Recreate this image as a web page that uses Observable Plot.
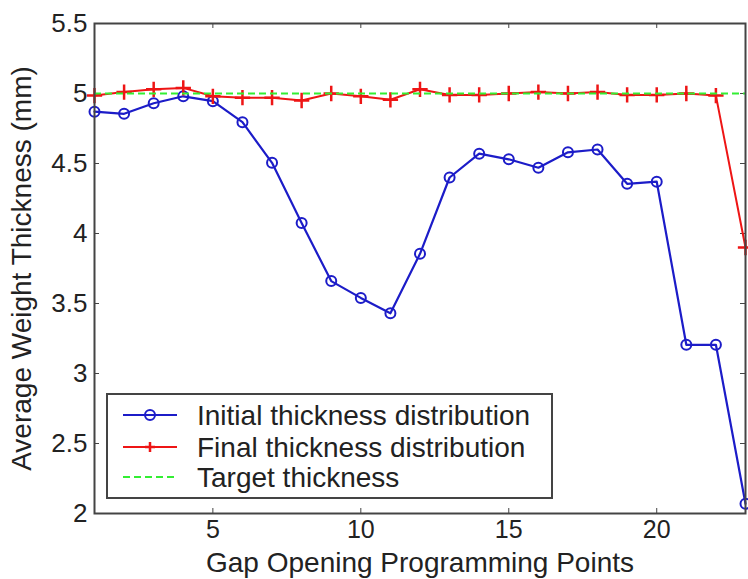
<!DOCTYPE html>
<html><head><meta charset="utf-8">
<script src="https://cdn.jsdelivr.net/npm/d3@7"></script>
<script src="https://cdn.jsdelivr.net/npm/@observablehq/plot@0.6"></script>
<style>body{margin:0;background:#fff;} #chart{width:748px;height:579px;}</style>
</head><body><div id="chart"></div>
<script>
const points = [1,2,3,4,5,6,7,8,9,10,11,12,13,14,15,16,17,18,19,20,21,22,23];
const initial = [4.87,4.855,4.93,4.98,4.945,4.795,4.505,4.075,3.66,3.54,3.43,3.855,4.40,4.57,4.53,4.47,4.58,4.60,4.355,4.37,3.205,3.205,2.07];
const final = [4.985,5.01,5.03,5.04,4.98,4.97,4.97,4.95,5.0,4.98,4.955,5.03,4.99,4.99,5.0,5.01,5.0,5.01,4.99,4.99,5.0,4.985,3.90];
const target = 5;
const xTicks = [5,10,15,20];
const yTicks = [2,2.5,3,3.5,4,4.5,5,5.5];
const seriesNames = ["Initial thickness distribution","Final thickness distribution","Target thickness"];
const xLabel = "Gap Opening Programming Points";
const yLabel = "Average Weight Thickness (mm)";

const BLUE = "#1c1cc8", RED = "#ee1515", GREEN = "#33ee33", FRAME = "#444";
const initData = points.map((x,i)=>({x, y: initial[i]}));
const finalData = points.map((x,i)=>({x, y: final[i]}));

const W = 748, H = 579, mL = 94, mR = 3, mT = 23, mB = 66;
const pw = W - mL - mR, ph = H - mT - mB;

const svg = Plot.plot({
  width: W, height: H,
  marginLeft: mL, marginRight: mR, marginTop: mT, marginBottom: mB,
  style: {fontFamily: "'Liberation Sans', Arial, sans-serif", fontSize: "26px", background: "#fff", color: "#222"},
  x: {domain: [points[0], points[points.length-1]]},
  y: {domain: [yTicks[0], yTicks[yTicks.length-1]]},
  marks: [
    Plot.axisX(xTicks, {tickSize: 0, tickPadding: 7, fontSize: 25, label: null}),
    Plot.axisY(yTicks, {tickSize: 0, tickPadding: 7, fontSize: 26, label: null, tickFormat: d => String(d)}),
    Plot.ruleX(xTicks, {insetTop: ph - 5, stroke: FRAME}),
    Plot.ruleX(xTicks, {insetBottom: ph - 5, stroke: FRAME}),
    Plot.ruleY(yTicks, {insetRight: pw - 5, stroke: FRAME}),
    Plot.ruleY(yTicks, {insetLeft: pw - 5, stroke: FRAME}),
    Plot.line(initData, {x: "x", y: "y", stroke: BLUE, strokeWidth: 2.2}),
    Plot.dot(initData, {x: "x", y: "y", r: 5, stroke: BLUE, strokeWidth: 2, fill: "none"}),
    Plot.line(finalData, {x: "x", y: "y", stroke: RED, strokeWidth: 2}),
    Plot.dot(finalData, {x: "x", y: "y", symbol: "plus", r: 5, stroke: RED, strokeWidth: 2.5}),
    Plot.ruleY([target], {x1: points[0], x2: points[points.length-1], stroke: GREEN, strokeWidth: 2, strokeDasharray: "7,4"}),
    Plot.frame({stroke: FRAME, strokeWidth: 2}),
    Plot.text([xLabel], {frameAnchor: "bottom", dy: 50, fontSize: 28, fill: "#222", textAnchor: "middle", lineAnchor: "middle"}),
    Plot.text([yLabel], {frameAnchor: "left", dx: -72, rotate: -90, fontSize: 28, fill: "#222", textAnchor: "middle", lineAnchor: "middle"})
  ]
});
document.getElementById("chart").appendChild(svg);

// legend
const lg = d3.select(svg).append("g").attr("font-family", "'Liberation Sans', Arial, sans-serif");
lg.append("rect").attr("x", 107).attr("y", 394).attr("width", 445).attr("height", 104)
  .attr("fill", "#fff").attr("stroke", FRAME).attr("stroke-width", 2);
const rows = [415, 447, 477];
const lx1 = 123, lx2 = 177, lxm = 150, tx = 197;
lg.append("line").attr("x1", lx1).attr("x2", lx2).attr("y1", rows[0]).attr("y2", rows[0]).attr("stroke", BLUE).attr("stroke-width", 2.2);
lg.append("circle").attr("cx", lxm).attr("cy", rows[0]).attr("r", 5).attr("fill", "none").attr("stroke", BLUE).attr("stroke-width", 2);
lg.append("line").attr("x1", lx1).attr("x2", lx2).attr("y1", rows[1]).attr("y2", rows[1]).attr("stroke", RED).attr("stroke-width", 2);
lg.append("path").attr("d", `M${lxm-5},${rows[1]}h10M${lxm},${rows[1]-5}v10`).attr("stroke", RED).attr("stroke-width", 2.5);
lg.append("line").attr("x1", lx1).attr("x2", lx2).attr("y1", rows[2]).attr("y2", rows[2]).attr("stroke", GREEN).attr("stroke-width", 2).attr("stroke-dasharray", "7,4");
seriesNames.forEach((s, i) => {
  lg.append("text").attr("x", tx).attr("y", rows[i]).attr("dy", "0.35em").attr("font-size", 28)
    .attr("text-anchor", "start").attr("fill", "#222").text(s);
});
</script>
</body></html>
